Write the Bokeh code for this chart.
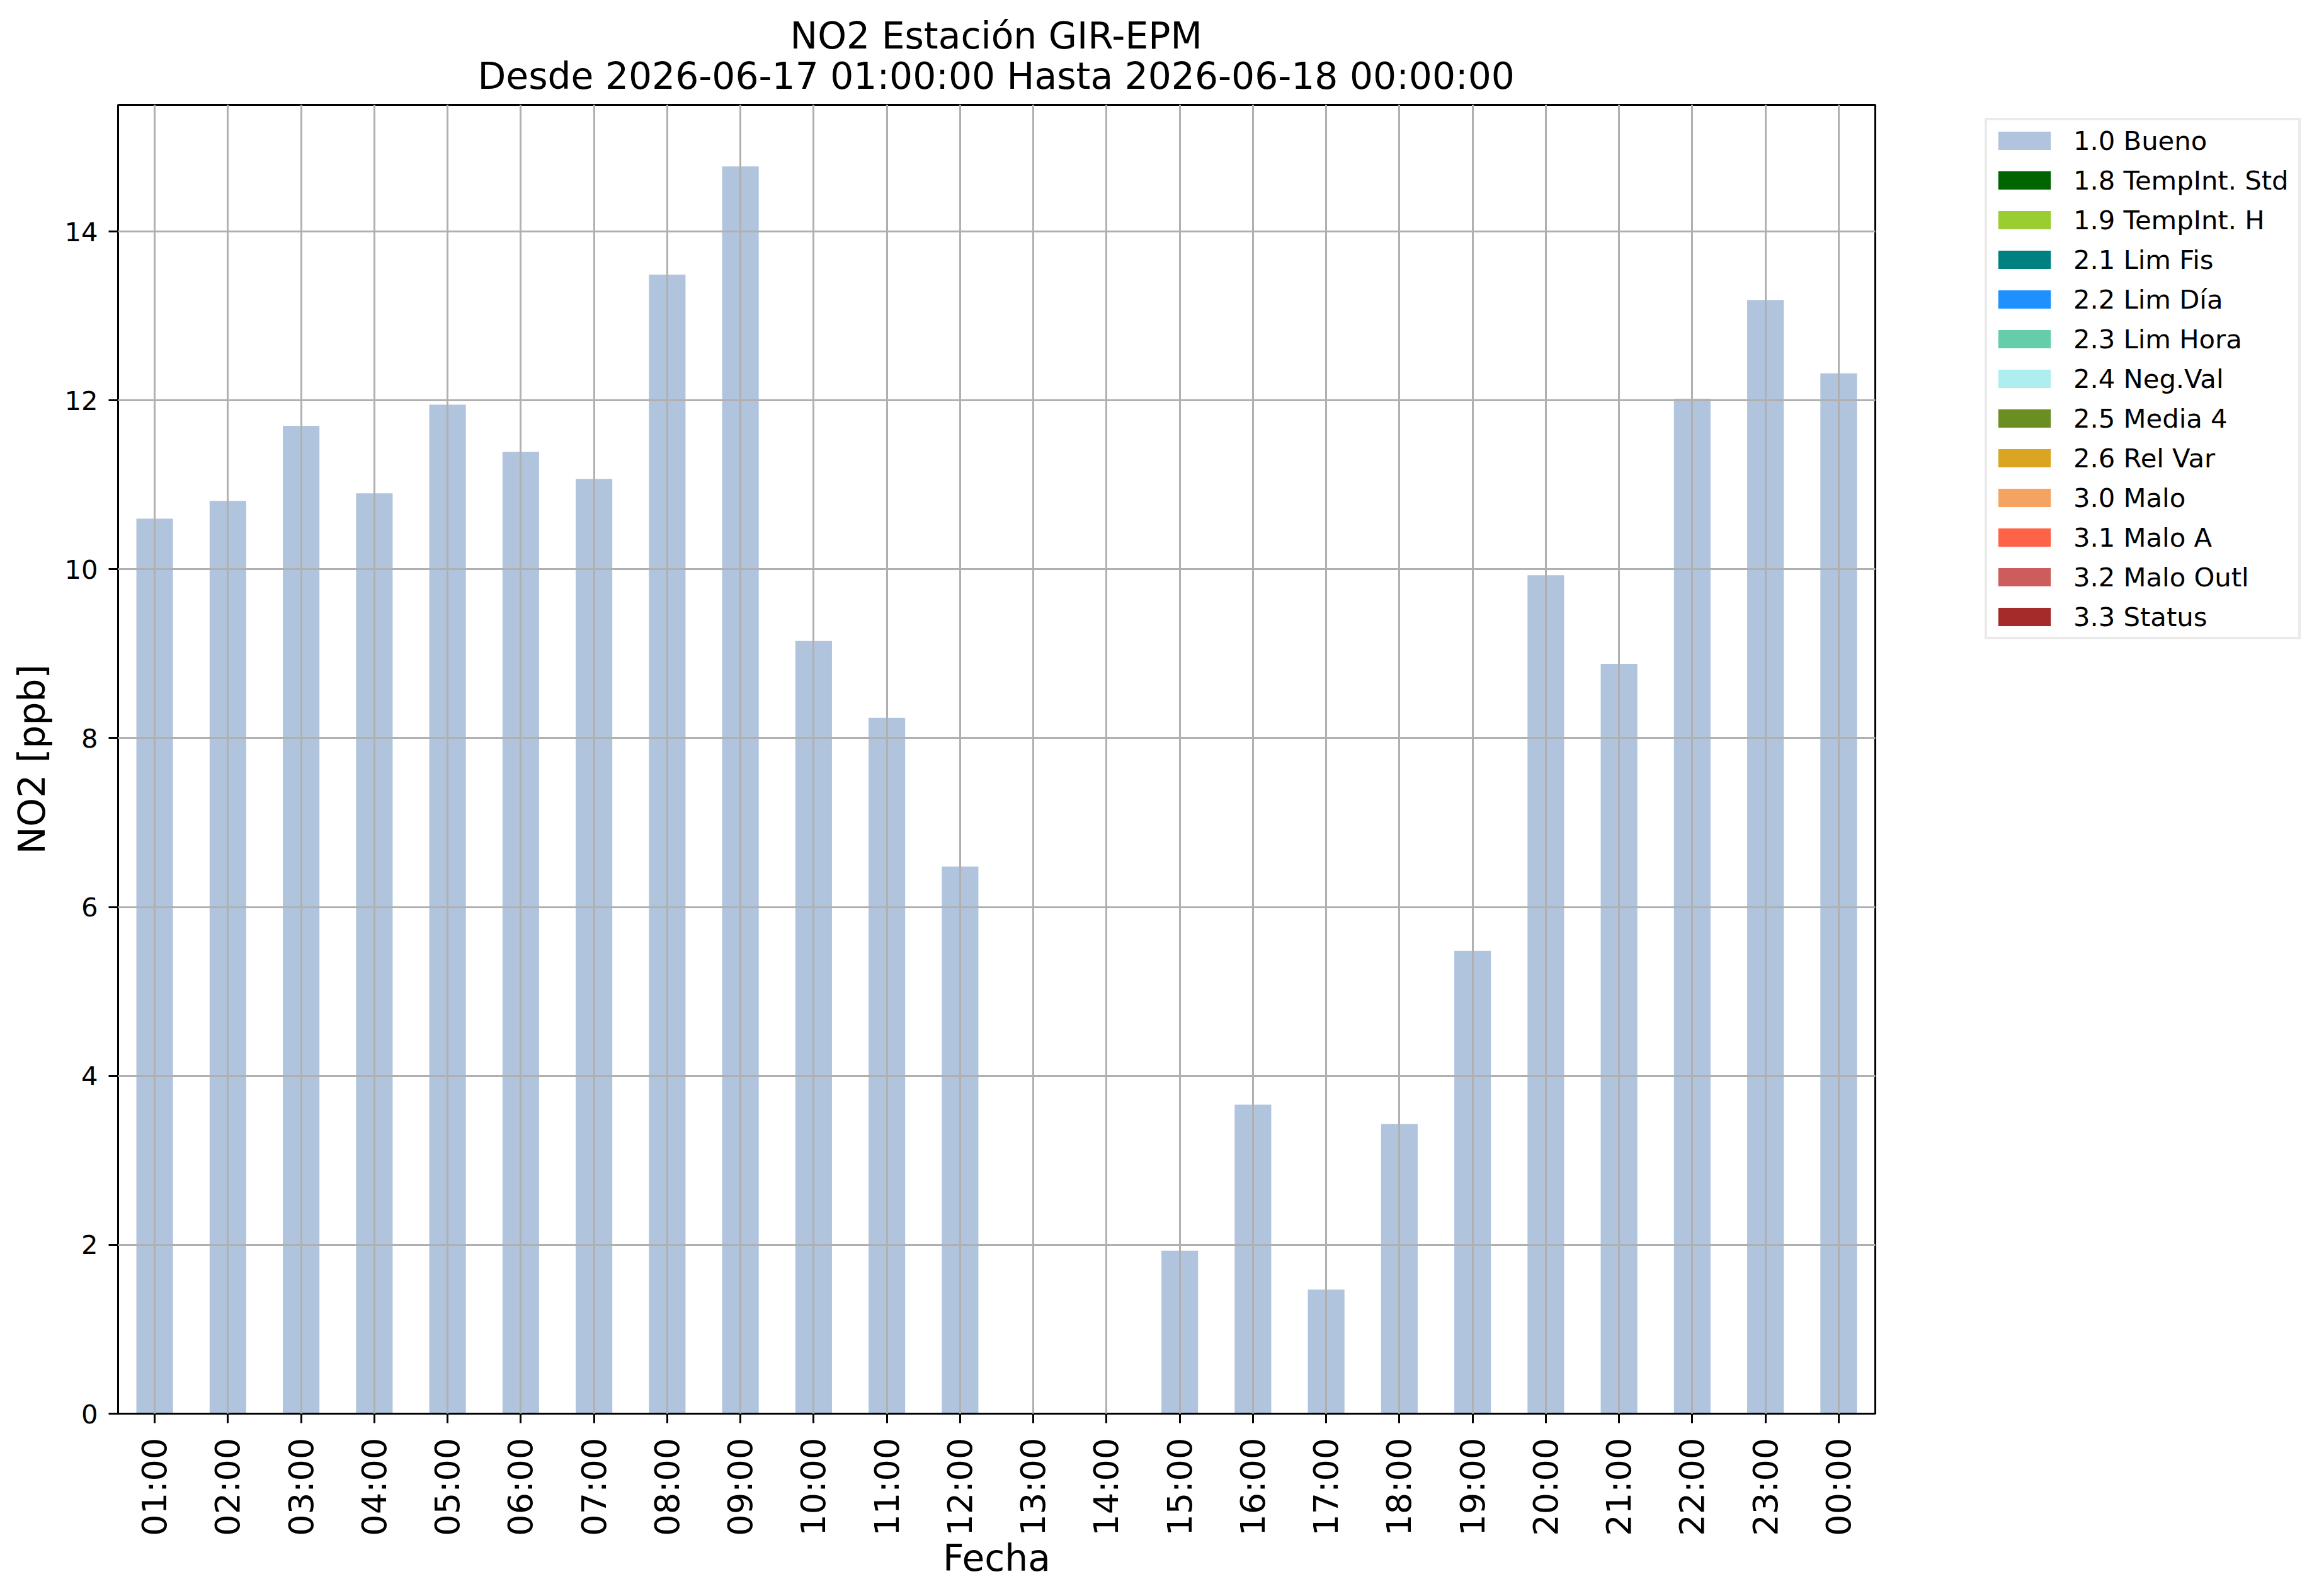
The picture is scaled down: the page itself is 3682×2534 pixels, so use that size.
import math
from bokeh.plotting import figure
from bokeh.layouts import row, column
from bokeh.models import (FactorRange, Range1d, Label, ColumnDataSource,
                          FixedTicker, Legend, LegendItem)
from bokeh.embed import file_html
from bokeh.resources import INLINE

hours = ["01:00", "02:00", "03:00", "04:00", "05:00", "06:00", "07:00", "08:00",
         "09:00", "10:00", "11:00", "12:00", "13:00", "14:00", "15:00", "16:00",
         "17:00", "18:00", "19:00", "20:00", "21:00", "22:00", "23:00", "00:00"]
nan = float("nan")
no2_bueno = [10.60, 10.81, 11.70, 10.90, 11.95, 11.39, 11.07, 13.49,
             14.77, 9.15, 8.24, 6.48, nan, nan, 1.93, 3.66,
             1.47, 3.43, 5.48, 9.93, 8.88, 12.02, 13.19, 12.32]
# the other validation flags have no values in this period
no2_otros_flags = [0, 0, 0, 0, 0, 0, 0, 0, 0, 0, 0, 0,
                   0, 0, 0, 0, 0, 0, 0, 0, 0, 0, 0, 0]
flag_labels = ["1.0 Bueno", "1.8 TempInt. Std", "1.9 TempInt. H", "2.1 Lim Fis",
               "2.2 Lim Día", "2.3 Lim Hora", "2.4 Neg.Val", "2.5 Media 4",
               "2.6 Rel Var", "3.0 Malo", "3.1 Malo A", "3.2 Malo Outl", "3.3 Status"]
flag_colors = ["#B0C4DE", "#006400", "#9ACD32", "#008080", "#1E90FF", "#66CDAA",
               "#AFEEEE", "#6B8E23", "#DAA520", "#F4A460", "#FF6347", "#CD5C5C",
               "#A52A2A"]
y_ticks = [0, 2, 4, 6, 8, 10, 12, 14]
title_line1 = "NO2 Estación GIR-EPM"
title_line2 = "Desde 2026-06-17 01:00:00 Hasta 2026-06-18 00:00:00"

FONT = "DejaVu Sans"
MAIN_W = 3148
TITLE_H = 164

# ---- title strip (pixel coordinates) ----
pt = figure(width=MAIN_W, height=TITLE_H, output_backend="svg", toolbar_location=None,
            x_range=Range1d(0, MAIN_W), y_range=Range1d(0, TITLE_H),
            x_axis_location=None, y_axis_location=None, title=None,
            min_border=0, min_border_left=0, min_border_right=0,
            min_border_top=0, min_border_bottom=0)
pt.outline_line_color = None
pt.background_fill_color = "white"
pt.border_fill_color = "white"
pt.grid.visible = False
title_cx = (187 + (MAIN_W - 171)) / 2 - 9
for txt, y_pos in ((title_line1, TITLE_H - 77 + 21), (title_line2, TITLE_H - 142 + 22)):
    pt.add_layout(Label(x=title_cx, y=y_pos, text=txt, text_align="center",
                        text_baseline="alphabetic", text_font=FONT,
                        text_font_size="58.3px", text_color="black"))

# ---- main chart ----
p = figure(width=MAIN_W, height=2534 - TITLE_H, output_backend="svg",
           toolbar_location=None,
           x_range=FactorRange(factors=hours, range_padding=0),
           y_range=Range1d(0, 15.5), title=None,
           min_border_left=187, min_border_right=171,
           min_border_top=2, min_border_bottom=290)
p.background_fill_color = "white"
p.border_fill_color = "white"
p.outline_line_color = "black"
p.outline_line_width = 3

data = {"hour": hours}
keys = []
for i, lab in enumerate(flag_labels):
    k = "f%d" % i
    keys.append(k)
    data[k] = no2_bueno if i == 0 else no2_otros_flags
src = ColumnDataSource(data)
p.vbar_stack(keys, x="hour", width=0.5, source=src,
             fill_color=flag_colors, line_color=None)

# grids above bars
for g in (p.xgrid, p.ygrid):
    g.grid_line_color = "#b0b0b0"
    g.grid_line_width = 3
    g.level = "annotation"

for ax in (p.xaxis, p.yaxis):
    ax.axis_line_width = 3
    ax.major_tick_line_width = 3
    ax.major_tick_out = 15
    ax.major_tick_in = 0
    ax.minor_tick_line_color = None
    ax.major_label_text_font = FONT
    ax.axis_label_text_font = FONT
    ax.axis_label_text_font_style = "normal"
    ax.axis_label_text_font_size = "58.3px"
    ax.axis_label_text_color = "black"
    ax.major_label_text_color = "black"

p.yaxis.ticker = FixedTicker(ticks=y_ticks)
p.yaxis.major_label_text_font_size = "41.7px"
p.yaxis.major_label_standoff = 17
p.yaxis.axis_label = "NO2 [ppb]"
p.yaxis.axis_label_standoff = 14

p.xaxis.major_label_text_font_size = "54.2px"
p.xaxis.major_label_orientation = math.pi / 2
p.xaxis.major_label_standoff = 23
p.xaxis.axis_label = "Fecha"
p.xaxis.axis_label_standoff = -2

# ---- legend panel on the right ----
pl = figure(width=3682 - MAIN_W, height=2534, output_backend="svg", toolbar_location=None,
            x_range=FactorRange(factors=hours), y_range=Range1d(-2, -1),
            x_axis_location=None, y_axis_location=None, title=None,
            min_border_left=3, min_border_right=0,
            min_border_top=187, min_border_bottom=0)
pl.outline_line_color = None
pl.background_fill_color = "white"
pl.border_fill_color = "white"
pl.grid.visible = False
leg_renderers = pl.vbar_stack(keys, x="hour", width=0.5, source=src,
                              fill_color=flag_colors, line_color=None)
for r in leg_renderers:
    r.visible = False

items = [LegendItem(label=lab, renderers=[r]) for lab, r in zip(flag_labels, leg_renderers)]
legend = Legend(items=items, location="top_left", margin=0, padding=7,
                glyph_width=104, glyph_height=36, label_standoff=26, spacing=13,
                label_height=50, label_width=350, click_policy="none",
                inactive_fill_alpha=0.0,
                label_text_font=FONT, label_text_font_size="41.7px",
                label_text_color="black",
                border_line_color="#d6d6d6", border_line_width=4,
                background_fill_color="white", background_fill_alpha=1.0)
pl.add_layout(legend, "center")

layout = row(column(pt, p), pl)
open("out.html", "w").write(file_html(layout, INLINE))
